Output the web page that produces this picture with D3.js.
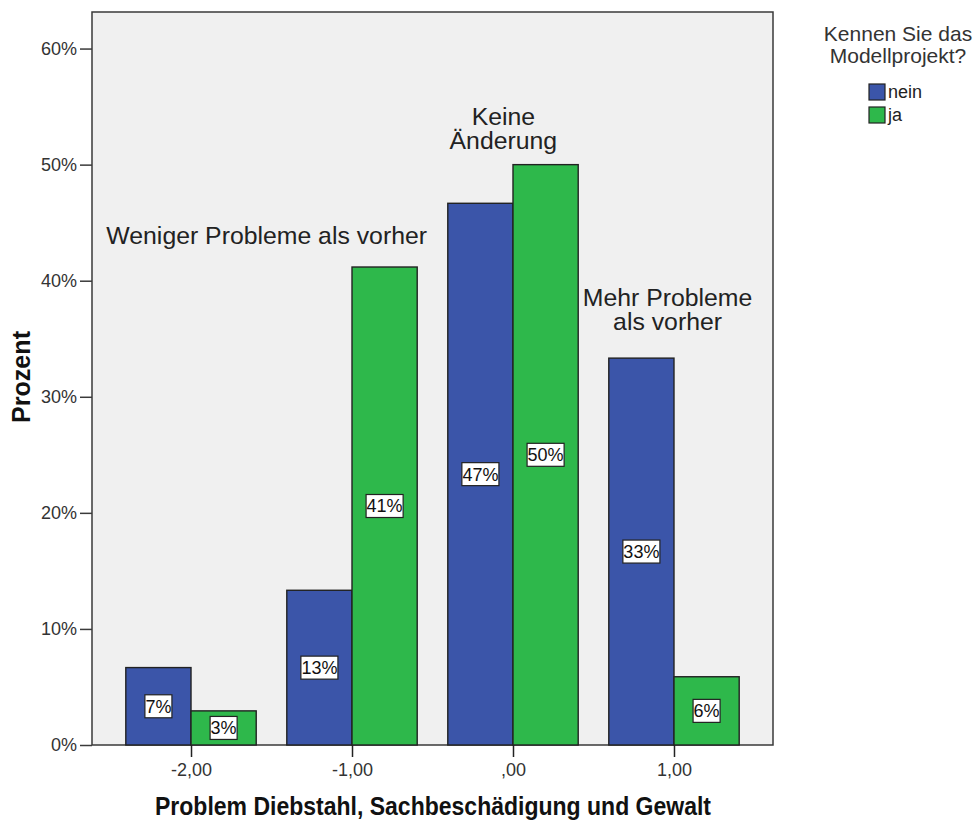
<!DOCTYPE html>
<html>
<head>
<meta charset="utf-8">
<script src="https://cdn.jsdelivr.net/npm/d3@7"></script>
<style>
  html, body { margin: 0; padding: 0; background: #ffffff; }
  svg text { font-family: "Liberation Sans", Arial, sans-serif; }
</style>
</head>
<body>
<svg id="chart" width="978" height="821"></svg>
<script>
// Categories on the x axis (change in the problem) and their tick labels
const categories = [-2, -1, 0, 1];
const tickLabels = ["-2,00", "-1,00", ",00", "1,00"];

// Series: "Kennen Sie das Modellprojekt?"
const seriesNames = ["nein", "ja"];
const neinValues = [6.67, 13.33, 46.67, 33.33];
const jaValues = [2.94, 41.18, 50.0, 5.88];
const seriesColors = ["#3b55a9", "#2eb84b"];

// Y ticks (percent)
const yTicks = [0, 10, 20, 30, 40, 50, 60];

// Text annotations placed in data coordinates (category, percent)
const annotationText = [["Weniger Probleme als vorher"], ["Keine", "Änderung"], ["Mehr Probleme", "als vorher"]];
const annotationX = [-1.53, -0.06, 0.96];
const annotationY = [43.2, 53.4, 37.8];

const svg = d3.select("#chart");
const plot = { left: 92, right: 773, top: 12, bottom: 745 };

const x = d3.scaleLinear().domain([-2.615, 1.615]).range([plot.left, plot.right]);
const y = d3.scaleLinear().domain([0, 63.15]).range([plot.bottom, plot.top]);
const barW = x(0.405) - x(0);

// Plot background and frame
svg.append("rect")
  .attr("x", plot.left).attr("y", plot.top)
  .attr("width", plot.right - plot.left).attr("height", plot.bottom - plot.top)
  .attr("fill", "#f0f0f0").attr("stroke", "#3a3a3a").attr("stroke-width", 1.5);

// Bars
const rows = [];
categories.forEach((c, i) => {
  rows.push({ c, s: 0, v: neinValues[i] });
  rows.push({ c, s: 1, v: jaValues[i] });
});

svg.append("g").selectAll("rect").data(rows).join("rect")
  .attr("x", d => d.s === 0 ? x(d.c) - barW : x(d.c))
  .attr("y", d => y(d.v))
  .attr("width", barW)
  .attr("height", d => y(0) - y(d.v))
  .attr("fill", d => seriesColors[d.s])
  .attr("stroke", "#222").attr("stroke-width", 1.4);

// Value labels in white boxes at mid-height of each bar
const lbl = svg.append("g").selectAll("g").data(rows).join("g")
  .attr("transform", d => `translate(${d.s === 0 ? x(d.c) - barW / 2 : x(d.c) + barW / 2},${y(d.v / 2)})`);
const lblBox = lbl.append("rect")
  .attr("fill", "#ffffff").attr("stroke", "#222").attr("stroke-width", 1.2);
const lblText = lbl.append("text")
  .attr("text-anchor", "middle").attr("dy", "0.36em")
  .attr("font-size", 18).attr("fill", "#111")
  .text(d => Math.round(d.v) + "%");
lblText.each(function () {
  const w = this.getComputedTextLength();
  d3.select(this.parentNode).select("rect")
    .attr("x", -w / 2 - 0.5).attr("y", -11.5).attr("width", w + 1).attr("height", 23);
});

// Y axis
const yAxis = svg.append("g").attr("transform", `translate(${plot.left},0)`)
  .call(d3.axisLeft(y).tickValues(yTicks).tickSize(12).tickPadding(3).tickFormat(d => d + "%"));
yAxis.select(".domain").remove();
yAxis.selectAll("line").attr("stroke", "#3a3a3a").attr("stroke-width", 1.5);
yAxis.selectAll("text").attr("font-size", 18).attr("fill", "#333")
  .style("font-family", "'Liberation Sans', Arial, sans-serif");

// X axis
const xAxis = svg.append("g").attr("transform", `translate(0,${plot.bottom})`)
  .call(d3.axisBottom(x).tickValues(categories).tickSize(12).tickPadding(6)
    .tickFormat((d, i) => tickLabels[i]));
xAxis.select(".domain").remove();
xAxis.selectAll("line").attr("stroke", "#222").attr("stroke-width", 1.5);
xAxis.selectAll("text").attr("font-size", 18).attr("fill", "#333")
  .style("font-family", "'Liberation Sans', Arial, sans-serif");

// Axis titles (condensed bold)
svg.append("text")
  .attr("transform", "translate(30,377) rotate(-90)")
  .attr("text-anchor", "middle")
  .attr("font-weight", "bold").attr("font-size", 26).attr("fill", "#111")
  .attr("textLength", 92).attr("lengthAdjust", "spacingAndGlyphs")
  .text("Prozent");

svg.append("text")
  .attr("x", 433).attr("y", 815)
  .attr("text-anchor", "middle")
  .attr("font-weight", "bold").attr("font-size", 25).attr("fill", "#111")
  .attr("textLength", 556).attr("lengthAdjust", "spacingAndGlyphs")
  .text("Problem Diebstahl, Sachbeschädigung und Gewalt");

// Annotations, one text element per line
annotationText.forEach((lines, i) => {
  lines.forEach((line, j) => {
    svg.append("text")
      .attr("x", x(annotationX[i])).attr("y", y(annotationY[i]) + j * 24)
      .attr("text-anchor", "middle").attr("font-size", 24.8).attr("fill", "#222")
      .text(line);
  });
});

// Legend
["Kennen Sie das", "Modellprojekt?"].forEach((line, j) => {
  svg.append("text")
    .attr("x", 898).attr("y", 41 + j * 22).attr("text-anchor", "middle")
    .attr("font-size", 21).attr("fill", "#333")
    .text(line);
});

const leg = svg.append("g").selectAll("g").data(seriesNames).join("g")
  .attr("transform", (d, i) => `translate(869,${84 + i * 23})`);
leg.append("rect").attr("width", 16).attr("height", 16)
  .attr("fill", (d, i) => seriesColors[i]).attr("stroke", "#222").attr("stroke-width", 1.2);
leg.append("text").attr("x", 19).attr("y", 14).attr("font-size", 18).attr("fill", "#222")
  .text(d => d);
</script>
</body>
</html>
